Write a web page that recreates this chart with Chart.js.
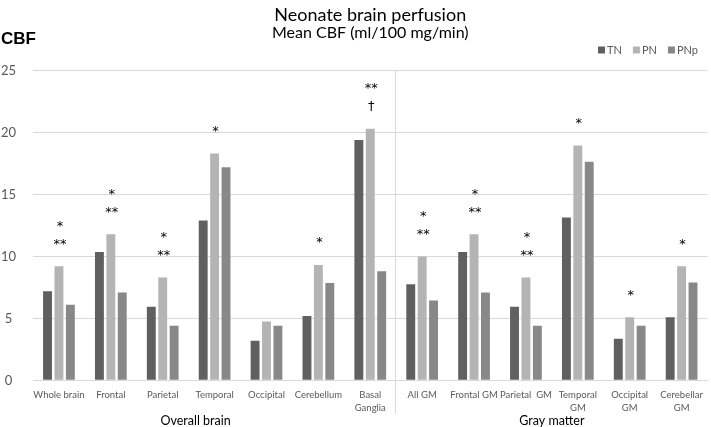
<!DOCTYPE html>
<html>
<head>
<meta charset="utf-8">
<script src="https://cdn.jsdelivr.net/npm/chart.js@4.4.1/dist/chart.umd.min.js"></script>
<style>
  html, body { margin:0; padding:0; background:#fff; }
  #wrap { width:711px; height:427px; }
</style>
</head>
<body>
<div id="wrap"><canvas id="chart" width="711" height="427"></canvas></div>
<script>
  /* ================= DATA ================= */
  const categories = [
    "Whole brain", "Frontal", "Parietal", "Temporal", "Occipital", "Cerebellum", ["Basal", "Ganglia"],
    "All GM", "Frontal GM", "Parietal  GM", ["Temporal", "GM"], ["Occipital", "GM"], ["Cerebellar", "GM"]
  ];
  const seriesNames = ["TN", "PN", "PNp"];
  const tnValues  = [7.2, 10.35, 5.95, 12.9, 3.2, 5.2, 19.4, 7.75, 10.35, 5.95, 13.15, 3.35, 5.1];
  const pnValues  = [9.2, 11.8, 8.3, 18.3, 4.75, 9.3, 20.3, 10.0, 11.8, 8.3, 18.95, 5.1, 9.2];
  const pnpValues = [6.1, 7.1, 4.4, 17.2, 4.4, 7.85, 8.8, 6.45, 7.1, 4.4, 17.65, 4.4, 7.9];
  // significance marks above PN bars, top line first
  const marks = [
    ["*", "**"], ["*", "**"], ["*", "**"], ["*"], [], ["*"], ["**", "\u2020"],
    ["*", "**"], ["*", "**"], ["*", "**"], ["*"], ["*"], ["*"]
  ];
  const groupNames = ["Overall brain", "Gray matter"];
  const groupSizes = [7, 6];
  const yTicks = [0, 5, 10, 15, 20, 25];
  const titleText = "Neonate brain perfusion";
  const subtitleText = "Mean CBF (ml/100 mg/min)";
  const yLabel = "CBF";

  const COLORS = ["#606060", "#b4b4b4", "#888888"];
  const FONT = "Lato, 'Liberation Sans', sans-serif";
  const GRID = "#d9d9d9";
  const TXT = "#595959";

  /* ================= PLUGIN: legend, marks, divider, group labels ================= */
  const extras = {
    id: "extras",
    afterDatasetsDraw(chart, args, opts) {
      const ctx = chart.ctx, area = chart.chartArea, x = chart.scales.x;
      ctx.save();

      // CBF label
      ctx.fillStyle = "#000";
      ctx.font = "bold 17px 'Liberation Sans', Arial, sans-serif";
      ctx.textAlign = "left"; ctx.textBaseline = "middle";
      ctx.fillText(yLabel, 1, 39);

      // legend (right aligned, top)
      ctx.font = "11px " + FONT;
      let lx = opts.legendRight;
      for (let i = seriesNames.length - 1; i >= 0; i--) {
        const w = ctx.measureText(seriesNames[i]).width;
        lx -= w;
        ctx.fillStyle = TXT;
        ctx.fillText(seriesNames[i], lx, opts.legendY);
        lx -= 9;
        ctx.fillStyle = COLORS[i];
        ctx.fillRect(lx, opts.legendY - 3.5, 7, 7);
        lx -= 11;
      }

      // significance marks above PN bars
      const meta = chart.getDatasetMeta(1);
      ctx.fillStyle = "#000";
      ctx.font = "13px 'DejaVu Sans', sans-serif";
      ctx.textAlign = "center"; ctx.textBaseline = "middle";
      marks.forEach((lines, i) => {
        const bar = meta.data[i];
        const n = lines.length;
        lines.forEach((t, j) => {
          const off = 22 + (n - 1 - j) * 18;
          ctx.fillText(t, bar.x + 1, bar.y - off);
        });
      });

      // group divider + labels
      let start = 0;
      ctx.strokeStyle = GRID; ctx.lineWidth = 1;
      ctx.font = "12.5px " + FONT;
      groupNames.forEach((g, k) => {
        const end = start + groupSizes[k] - 1;
        const cx = (x.getPixelForValue(start) + x.getPixelForValue(end)) / 2 + (opts.shift[k] || 0);
        ctx.fillText(g, cx, area.bottom + 41);
        if (k < groupNames.length - 1) {
          const dx = Math.round((x.getPixelForValue(end) + x.getPixelForValue(end + 1)) / 2) - 0.5;
          ctx.beginPath();
          ctx.moveTo(dx, area.top);
          ctx.lineTo(dx, area.bottom + 33);
          ctx.stroke();
        }
        start = end + 1;
      });
      ctx.restore();
    }
  };

  /* ================= CHART ================= */
  const mk = (label, data, i) => ({
    label, data, backgroundColor: COLORS[i], borderWidth: 0,
    categoryPercentage: 0.66, barPercentage: 0.78
  });

  new Chart(document.getElementById("chart"), {
    type: "bar",
    data: {
      labels: categories,
      datasets: [mk(seriesNames[0], tnValues, 0), mk(seriesNames[1], pnValues, 1), mk(seriesNames[2], pnpValues, 2)]
    },
    plugins: [extras],
    options: {
      responsive: false,
      animation: false,
      layout: { padding: { left: 0, right: 1, top: 0, bottom: 5 } },
      plugins: {
        title: { display: true, fullSize: false, text: titleText, color: "#000", font: { family: FONT, size: 18, weight: "normal", lineHeight: 1.1 }, padding: { top: 5, bottom: 0 } },
        subtitle: { display: true, fullSize: false, text: subtitleText, color: "#000", font: { family: FONT, size: 16, lineHeight: 1.05 }, padding: { top: 0, bottom: 29 } },
        legend: { display: false },
        tooltip: { enabled: false },
        extras: { shift: [-19, 0], legendRight: 698, legendY: 50 }
      },
      scales: {
        x: {
          grid: { display: false, drawTicks: false },
          border: { color: GRID },
          ticks: { color: TXT, font: { family: FONT, size: 9.5, lineHeight: 1.35 }, maxRotation: 0, autoSkip: false, padding: 8 }
        },
        y: {
          min: 0, max: 25,
          afterBuildTicks: s => { s.ticks = yTicks.map(v => ({ value: v })); },
          afterFit: s => { s.width = 33; },
          grid: { color: GRID, drawTicks: false },
          border: { display: false },
          ticks: { color: TXT, font: { family: FONT, size: 13 }, padding: 17, crossAlign: "center" }
        }
      }
    }
  });
</script>
</body>
</html>
